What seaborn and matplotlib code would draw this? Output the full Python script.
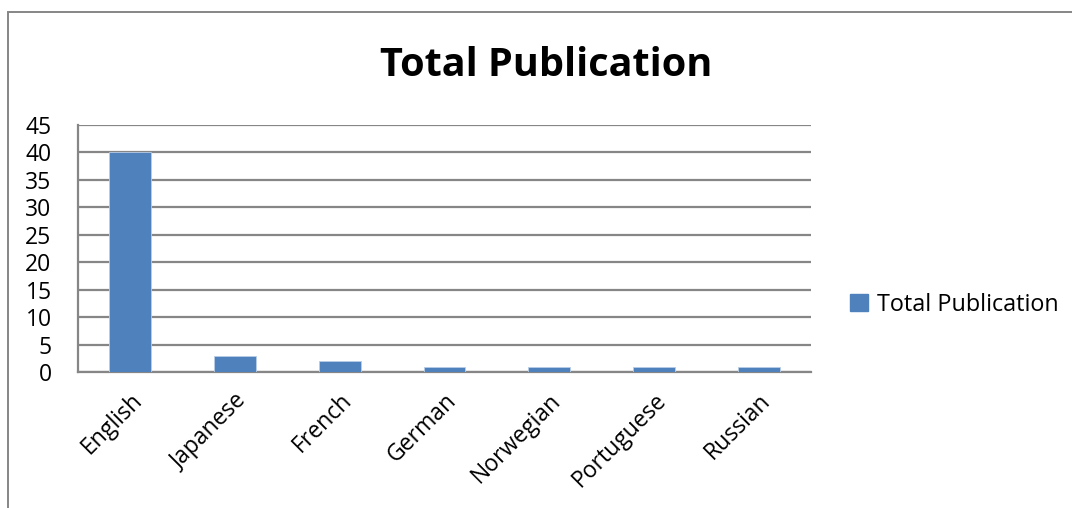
import matplotlib
matplotlib.use("Agg")
import matplotlib.pyplot as plt
import matplotlib.patches as mpatches
import seaborn as sns
import pandas as pd

sns.set_style("white")
plt.rcParams["font.family"] = ["Open Sans", "DejaVu Sans"]
plt.rcParams["text.color"] = "black"
plt.rcParams["xtick.color"] = "black"
plt.rcParams["ytick.color"] = "black"

# data
languages = ["English", "Japanese", "French", "German", "Norwegian", "Portuguese", "Russian"]
publications = [40, 3, 2, 1, 1, 1, 1]
y_ticks = [0, 5, 10, 15, 20, 25, 30, 35, 40, 45]

df = pd.DataFrame({"language": languages, "count": publications})

grey = "#868686"
bar_color = "#4F81BD"

fig = plt.figure(figsize=(10.72, 5.08), dpi=100)
ax = fig.add_axes([78 / 1072, 136 / 508, 733 / 1072, 247 / 508])

sns.barplot(x="language", y="count", data=df, color=bar_color, saturation=1, width=0.4,
            edgecolor="#b8cde6", linewidth=0.6, ax=ax, zorder=3)

ax.set_ylim(0, 45)
ax.set_xlim(-0.5, len(languages) - 0.5)
ax.set_yticks(y_ticks)
ax.yaxis.grid(True, color=grey, linewidth=1.6, zorder=0)
ax.set_axisbelow(True)
ax.set_xlabel("")
ax.set_ylabel("")

for side in ["top", "right"]:
    ax.spines[side].set_visible(False)
for side in ["left", "bottom"]:
    ax.spines[side].set_color(grey)
    ax.spines[side].set_linewidth(1.6)

ax.tick_params(axis="y", length=8, width=1.6, color=grey, labelcolor="black", labelsize=16.5, pad=11)
ax.set_xticks(range(len(languages)))
ax.set_xticklabels(languages, rotation=45, ha="right", rotation_mode="anchor", fontsize=16.5)
ax.tick_params(axis="x", which="major", length=0, pad=12, labelcolor="black")
ax.set_xticks([i - 0.5 for i in range(len(languages) + 1)], minor=True)
ax.tick_params(axis="x", which="minor", length=8, width=1.6, color=grey)

fig.text(546 / 1072, 1 - 66 / 508, "Total Publication", ha="center", va="center",
         fontsize=28.5, fontweight="bold", color="black")

handle = mpatches.Patch(color=bar_color, label="Total Publication")
fig.legend(handles=[handle], loc="center left", bbox_to_anchor=(829 / 1072, 1 - 305 / 508),
           frameon=False, fontsize=16.8, handlelength=0.75, handleheight=0.75, handletextpad=0.4)

# outer chart frame
frame = mpatches.Rectangle((8 / 1072, -0.05), 1.1, 1 - 12 / 508 + 0.05, transform=fig.transFigure,
                           fill=False, edgecolor=grey, linewidth=1.4, clip_on=False)
fig.patches.append(frame)

plt.savefig("out.png", dpi=100)
plt.close()
